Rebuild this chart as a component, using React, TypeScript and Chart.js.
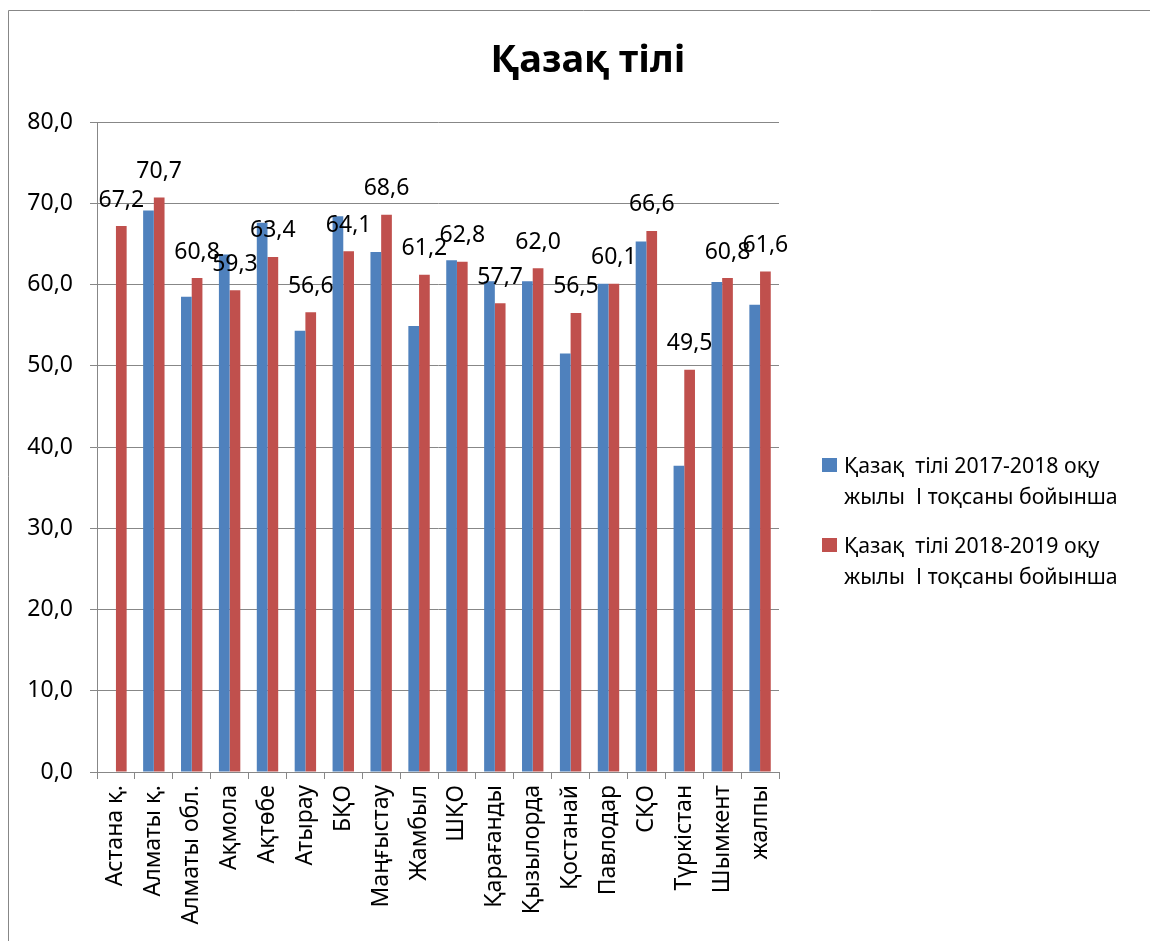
import React, { useEffect, useRef } from "react";
import { Chart, registerables } from "chart.js";

Chart.register(...registerables);

const categories = [
  "Астана қ.", "Алматы қ.", "Алматы обл.", "Ақмола", "Ақтөбе", "Атырау", "БҚО",
  "Маңғыстау", "Жамбыл", "ШҚО", "Қарағанды", "Қызылорда", "Қостанай", "Павлодар",
  "СҚО", "Түркістан", "Шымкент", "жалпы",
];
const series2017 = [null, 69.1, 58.5, 63.7, 67.6, 54.3, 68.4, 64.0, 54.9, 63.0, 60.4, 60.4, 51.5, 60.1, 65.3, 37.7, 60.3, 57.5];
const series2018 = [67.2, 70.7, 60.8, 59.3, 63.4, 56.6, 64.1, 68.6, 61.2, 62.8, 57.7, 62.0, 56.5, 60.1, 66.6, 49.5, 60.8, 61.6];
const legend2017 = ["Қазақ  тілі 2017-2018 оқу", "жылы  І тоқсаны бойынша"];
const legend2018 = ["Қазақ  тілі 2018-2019 оқу", "жылы  І тоқсаны бойынша"];
const titleText = "Қазақ тілі";

const BLUE = "#4F81BD";
const RED = "#C0504D";
const GRAY = "#878787";
const FONT = "'Noto Sans', sans-serif";

const fmt = (v: number) => v.toFixed(1).replace(".", ",");

const decorPlugin = {
  id: "decor",
  afterDatasetsDraw(chart: any) {
    const ctx = chart.ctx;
    ctx.save();
    const meta = chart.getDatasetMeta(1);
    ctx.font = `23px ${FONT}`;
    ctx.fillStyle = "#000";
    ctx.textAlign = "center";
    ctx.textBaseline = "middle";
    meta.data.forEach((el: any, i: number) => {
      const v = series2018[i];
      if (v == null) return;
      ctx.fillText(fmt(v), el.x, el.y - 26);
    });
    ctx.restore();
  },
  afterDraw(chart: any) {
    const ctx = chart.ctx;
    ctx.save();
    ctx.strokeStyle = GRAY;
    ctx.lineWidth = 1;
    ctx.beginPath();
    ctx.moveTo(0.5, 940);
    ctx.lineTo(0.5, 2.5);
    ctx.lineTo(1150, 2.5);
    ctx.stroke();
    ctx.fillStyle = "#000";
    ctx.font = `bold 38px ${FONT}`;
    ctx.textAlign = "center";
    ctx.textBaseline = "alphabetic";
    ctx.fillText(titleText, 580, 64);
    const items = [
      { color: BLUE, lines: legend2017, top: 450, base: 465 },
      { color: RED, lines: legend2018, top: 530, base: 545 },
    ];
    ctx.font = `21.3px ${FONT}`;
    ctx.textAlign = "left";
    items.forEach((it) => {
      ctx.fillStyle = it.color;
      ctx.fillRect(814, it.top, 15, 14);
      ctx.fillStyle = "#000";
      it.lines.forEach((ln, j) => ctx.fillText(ln, 836, it.base + j * 31));
    });
    ctx.restore();
  },
};

export default function App() {
  const ref = useRef<HTMLCanvasElement>(null);
  useEffect(() => {
    if (!ref.current) return;
    const chart = new Chart(ref.current, {
      type: "bar",
      data: {
        labels: categories,
        datasets: [
          { label: legend2017.join(" "), data: series2017, backgroundColor: BLUE, categoryPercentage: 0.565, barPercentage: 1.0 },
          { label: legend2018.join(" "), data: series2018, backgroundColor: RED, categoryPercentage: 0.565, barPercentage: 1.0 },
        ],
      },
      options: {
        responsive: false,
        animation: false,
        layout: { padding: { left: 0, top: 114, right: 379, bottom: 0 } },
        plugins: { legend: { display: false }, title: { display: false }, tooltip: { enabled: false } },
        scales: {
          x: {
            afterFit: (s: any) => { s.height = 169; },
            grid: { drawOnChartArea: false, drawTicks: true, tickLength: 7, color: GRAY, offset: true },
            border: { display: true, color: GRAY },
            ticks: {
              autoSkip: false, maxRotation: 90, minRotation: 90, padding: 6,
              color: "#000", font: { family: FONT, size: 23 },
            },
          },
          y: {
            min: 0, max: 80,
            afterFit: (s: any) => { s.width = 89; },
            grid: { color: GRAY, tickLength: 7, drawTicks: true },
            border: { display: true, color: GRAY },
            ticks: {
              stepSize: 10, padding: 17, color: "#000", font: { family: FONT, size: 23 },
              callback: (v: any) => fmt(Number(v)),
            },
          },
        },
      },
      plugins: [decorPlugin],
    });
    return () => chart.destroy();
  }, []);
  return <canvas ref={ref} width={1150} height={933} style={{ display: "block" }} />;
}
